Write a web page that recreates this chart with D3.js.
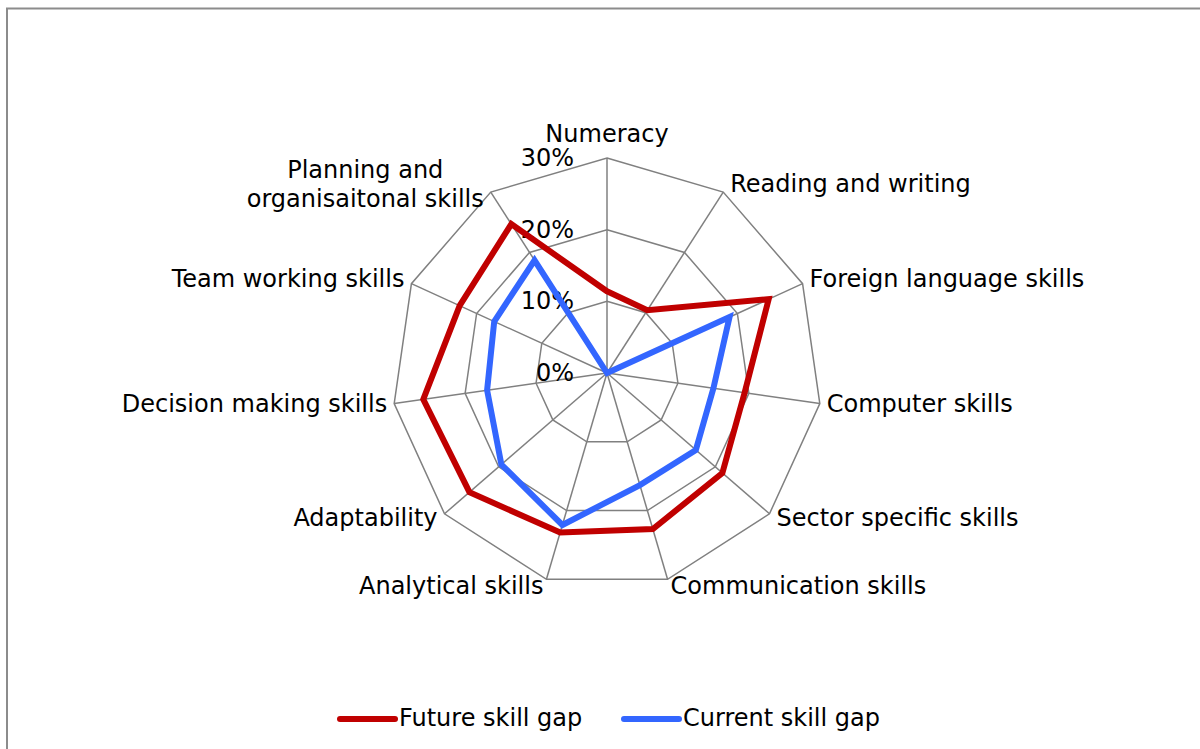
<!DOCTYPE html>
<html>
<head>
<meta charset="utf-8">
<title>Skill gap radar</title>
<style>
  body { margin: 0; background: #fff; }
  text { font-family: "DejaVu Sans", Verdana, sans-serif; fill: #000; }
</style>
</head>
<body>
<script src="https://cdn.jsdelivr.net/npm/d3@7"></script>
<script>
// categories, clockwise from the top
var categories = ["Numeracy", "Reading and writing", "Foreign language skills", "Computer skills",
  "Sector specific skills", "Communication skills", "Analytical skills", "Adaptability",
  "Decision making skills", "Team working skills", "Planning and organisaitonal skills"];
// values in %
var future  = [11.4, 10.4, 24.8, 19.4, 21.3, 22.7, 23.2, 25.4, 25.9, 22.6, 24.7];
var current = [0, 0, 18.8, 15.0, 16.4, 16.3, 22.1, 19.5, 16.9, 17.3, 18.7];
var ticks = [0, 10, 20, 30];
var seriesNames = ["Future skill gap", "Current skill gap"];

var width = 1200, height = 749;
var cx = 607, cy = 373, R = 215;
var fontSize = 24;

var svg = d3.select("body").append("svg")
  .attr("width", width)
  .attr("height", height);

// outer frame (runs off right and bottom edges)
svg.append("rect")
  .attr("x", 7).attr("y", 8.5)
  .attr("width", width).attr("height", height)
  .attr("fill", "none")
  .attr("stroke", "#8c8c8c")
  .attr("stroke-width", 2);

var r = d3.scaleLinear().domain([0, 30]).range([0, R]);
var angle = d3.scaleLinear().domain([0, categories.length]).range([0, 2 * Math.PI]);

var g = svg.append("g").attr("transform", "translate(" + cx + "," + cy + ")");

function pt(i, v) {
  var a = angle(i);
  return [r(v) * Math.sin(a), -r(v) * Math.cos(a)];
}

// grid rings
var ring = d3.lineRadial()
  .angle(function(d, i) { return angle(i); })
  .radius(function(d) { return r(d); })
  .curve(d3.curveLinearClosed);

g.selectAll(".ring")
  .data(ticks.filter(function(t) { return t > 0; }))
  .enter().append("path")
  .attr("class", "ring")
  .attr("d", function(t) { return ring(categories.map(function() { return t; })); })
  .attr("fill", "none")
  .attr("stroke", "#808080")
  .attr("stroke-width", 1.5);

// spokes
g.selectAll(".spoke")
  .data(categories)
  .enter().append("line")
  .attr("class", "spoke")
  .attr("x1", 0).attr("y1", 0)
  .attr("x2", function(d, i) { return pt(i, 30)[0]; })
  .attr("y2", function(d, i) { return pt(i, 30)[1]; })
  .attr("stroke", "#808080")
  .attr("stroke-width", 1.5);

// tick labels
g.selectAll(".tick")
  .data(ticks)
  .enter().append("text")
  .attr("class", "tick")
  .attr("x", -33)
  .attr("y", function(t) { return -r(t) + 1; })
  .attr("text-anchor", "end")
  .attr("dominant-baseline", "middle")
  .style("font-size", fontSize + "px")
  .text(function(t) { return t + "%"; });

// series
var line = d3.lineRadial()
  .angle(function(d, i) { return angle(i); })
  .radius(function(d) { return r(d); })
  .curve(d3.curveLinearClosed);

var series = [
  { name: seriesNames[0], values: future, color: "#C00000" },
  { name: seriesNames[1], values: current, color: "#3366FF" }
];

g.selectAll(".series")
  .data(series)
  .enter().append("path")
  .attr("class", "series")
  .attr("d", function(d) { return line(d.values); })
  .attr("fill", "none")
  .attr("stroke", function(d) { return d.color; })
  .attr("stroke-width", 6)
  .attr("stroke-linejoin", "miter");

// category labels
categories.forEach(function(c, i) {
  var p = pt(i, 30);
  var a = angle(i);
  var s = Math.sin(a);
  var t = g.append("text").style("font-size", fontSize + "px");
  if (Math.abs(s) < 0.01) {
    t.attr("x", p[0]).attr("y", p[1] - 16).attr("text-anchor", "middle").text(c);
    return;
  }
  var anchor = s > 0 ? "start" : "end";
  var off = Math.abs(s) > 0.5 ? 7 : 3;
  var x = p[0] + (s > 0 ? off : -off);
  var y = p[1] - 8 * Math.cos(a);
  if (c.indexOf("Planning") === 0) {
    // two lines, centred on each other, right edge at the vertex
    var lines = ["Planning and", "organisaitonal skills"];
    var tmp = g.append("text").style("font-size", fontSize + "px").text(lines[1]);
    var w = tmp.node().getComputedTextLength();
    tmp.remove();
    var mx = x - w / 2;
    t.attr("text-anchor", "middle");
    t.append("tspan").attr("x", mx).attr("y", p[1] - 14).text(lines[0]);
    t.append("tspan").attr("x", mx).attr("y", p[1] + 15).text(lines[1]);
    return;
  }
  t.attr("x", x).attr("y", y)
    .attr("text-anchor", anchor)
    .attr("dominant-baseline", "middle")
    .text(c);
});

// legend
var legend = svg.append("g").attr("transform", "translate(340,719)");
var lx = [0, 284];
series.forEach(function(d, i) {
  var lg = legend.append("g").attr("transform", "translate(" + lx[i] + ",0)");
  lg.append("line")
    .attr("x1", 0).attr("x2", 55)
    .attr("y1", 0).attr("y2", 0)
    .attr("stroke", d.color)
    .attr("stroke-width", 6)
    .attr("stroke-linecap", "round");
  lg.append("text")
    .attr("x", 59).attr("y", 0)
    .attr("dominant-baseline", "middle")
    .style("font-size", fontSize + "px")
    .text(d.name);
});
</script>
</body>
</html>
